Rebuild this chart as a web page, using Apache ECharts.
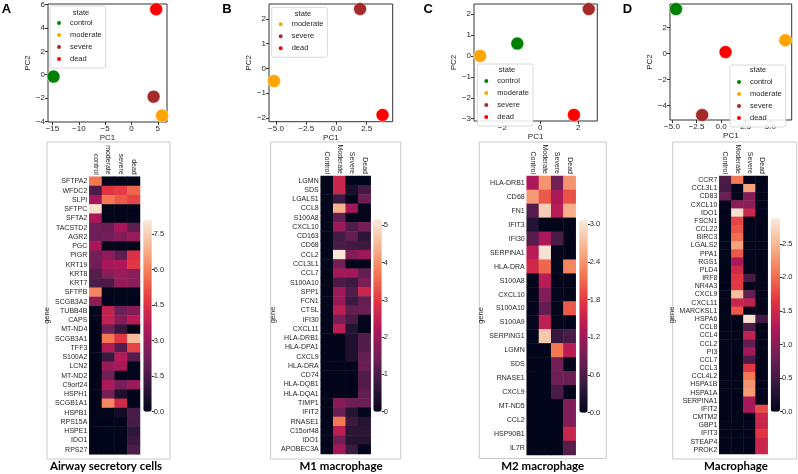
<!DOCTYPE html>
<html><head><meta charset="utf-8">
<script src="https://cdn.jsdelivr.net/npm/echarts@6/dist/echarts.min.js"></script>
<style>html,body{margin:0;padding:0;background:#fff}#c{width:798px;height:474px}</style>
</head><body><div id="c"></div>
<script>
// ================= DATA =================
// PCA scatter data
const statesA = ['control','moderate','severe','dead'];
const pcaA_PC1 = [-14.8, 5.8, 4.2, 4.7];
const pcaA_PC2 = [-0.16, -3.5, -1.88, 5.6];
const statesB = ['moderate','severe','dead'];
const pcaB_PC1 = [-5.17, 1.95, 3.81];
const pcaB_PC2 = [-0.51, 2.4, -1.88];
const statesC = ['control','moderate','severe','dead'];
const pcaC_PC1 = [-1.21, -3.17, 2.55, 1.77];
const pcaC_PC2 = [0.59, 0.0, 2.24, -2.82];
const statesD = ['control','moderate','severe','dead'];
const pcaD_PC1 = [-4.59, 6.53, -1.93, 0.45];
const pcaD_PC2 = [3.44, 1.03, -4.75, 0.12];

// scatter tick labels
const ticksA_PC1 = [-15,-10,-5,0,5];   const ticksA_PC2 = [-4,-2,0,2,4,6];
const ticksB_PC1 = [-5,-2.5,0,2.5];    const ticksB_PC2 = [-2,-1,0,1,2];
const ticksC_PC1 = [-2,0,2];           const ticksC_PC2 = [-3,-2,-1,0,1,2];
const ticksD_PC1 = [-5,-2.5,0,2.5,5];  const ticksD_PC2 = [-4,-2,0,2];

// heatmap columns
const colsA = ['control','moderate','severe','dead'];
const colsB = ['Control','Moderate','Severe','Dead'];
const colsC = ['Control','Moderate','Severe','Dead'];
const colsD = ['Control','Moderate','Severe','Dead'];

// colorbar ticks / ranges
const cbTicksA = [0,1.5,3.0,4.5,6.0,7.5]; const cbMaxA = 8.1;
const cbTicksB = [0,1,2,3,4,5];           const cbMaxB = 5.16;
const cbTicksC = [0,0.6,1.2,1.8,2.4,3.0]; const cbMaxC = 3.07;
const cbTicksD = [0,0.5,1.0,1.5,2.0,2.5]; const cbMaxD = 2.88;

// Panel A: Airway secretory cells
const genesA = ['SFTPA2','WFDC2','SLPI','SFTPC','SFTA2','TACSTD2','AGR2','PGC','PIGR','KRT19','KRT8','KRT7','SFTPB','SCGB3A2','TUBB4B','CAPS','MT-ND4','SCGB3A1','TFF3','S100A2','LCN2','MT-ND2','C9orf24','HSPH1','SCGB1A1','HSPB1','RPS15A','HSPE1','IDO1','RPS27'];
const A_control  = [5.8,1.6,3.3,7.9,3.4,2.3,2.3,3.4,2.4,2.3,1.8,1.6,6.1,2.9,0,0,0,0,0,0,0,0,0,0,0,0,0,0,0,0];
const A_moderate = [0,4.6,5.8,0,0,2.2,2.4,0,2.9,3.4,2.8,1.6,0,0,3.9,3.9,2.3,5.8,3.6,1.2,3.1,2.3,3.5,2.4,6.1,0,0,0,0,0];
const A_severe   = [0,4.8,5.3,0,0,3.4,2.7,0,2.0,3.5,3.1,3.1,0,0,2.3,2.7,1.1,4.7,1.8,3.6,3.4,0,2.4,0.6,4.2,0.4,0,0,0,0];
const A_dead     = [0,5.5,4.9,0,0,2.0,3.1,0,4.5,4.7,2.8,2.8,0,0,2.7,3.7,0,7.1,4.9,1.8,0,0,3.1,0,0,1.5,1.5,1.0,1.2,1.6];

// Panel B: M1 macrophage
const genesB = ['LGMN','SDS','LGALS1','CCL8','S100A8','CXCL10','CD163','CD68','CCL2','CCL3L1','CCL7','S100A10','SPP1','FCN1','CTSL','IFI30','CXCL11','HLA-DRB1','HLA-DPA1','CXCL9','HLA-DRA','CD74','HLA-DQB1','HLA-DQA1','TIMP1','IFIT2','RNASE1','C15orf48','IDO1','APOBEC3A'];
const B_control  = [0,0,0,0,0,0,0,0,0,0,0,0,0,0,0,0,0,0,0,0,0,0,0,0,0,0,0,0,0,0];
const B_moderate = [2.6,2.6,0.8,4.4,1.3,2.0,0.9,1.0,5.1,1.5,2.1,1.0,2.0,2.0,2.4,1.6,2.4,0,0,0,0,0,0,0,1.8,1.4,3.7,2.4,1.5,2.1];
const B_severe   = [0,0.35,0,2.1,0,1.1,1.3,0.9,1.7,0,2.1,0.8,1.1,0.8,1.3,1.0,0.5,0.4,0.4,0.4,0,0,0,0,1.4,0.5,0.8,0.6,0.5,0.8];
const B_dead     = [0,0.9,1.4,0,0,1.5,0.6,0.8,2.0,0,1.3,1.6,2.6,1.3,1.4,0,0,1.1,1.1,1.3,1.4,1.1,1.1,1.3,1.4,0,0.5,0.6,0.5,0];

// Panel C: M2 macrophage
const genesC = ['HLA-DRB1','CD68','FN1','IFIT3','IFI30','SERPINA1','HLA-DRA','S100A8','CXCL10','S100A10','S100A9','SERPING1','LGMN','SDS','RNASE1','CXCL9','MT-ND5','CCL2','HSP90B1','IL7R'];
const C_control  = [1.3,2.45,0.68,0.3,0.68,1.4,1.6,0,0,0,0,0,0,0,0,0,0,0,0,0];
const C_moderate = [2.4,2.0,2.85,0,1.3,3.0,2.1,1.4,1.0,0.77,1.45,2.8,0,0,0,0,0,0,0,0];
const C_severe   = [0.9,1.3,1.4,0,0.6,0,0,0,0,0,0,0.45,2.2,0.9,0.85,0.6,0,0,0,0];
const C_dead     = [2.4,1.95,2.6,0,0,0,2.3,0,0,2.0,0,0.6,1.4,0,0.85,0,1.0,1.0,1.55,0.68];

// Panel D: Macrophage
const genesD = ['CCR7','CCL3L1','CD83','CXCL10','IDO1','FSCN1','CCL22','BIRC3','LGALS2','PPA1','RGS1','PLD4','IRF8','NR4A3','CXCL9','CXCL11','MARCKSL1','HSPA6','CCL8','CCL4','CCL2','PI3','CCL7','CCL3','CCL4L2','HSPA1B','HSPA1A','SERPINA1','IFIT2','CMTM2','GBP1','IFIT3','STEAP4','PROK2'];
const D_control  = [0.58,0.52,0.78,0,0,0,0,0,0,0,0,0,0,0,0,0,0,0,0,0,0,0,0,0,0,0,0,0,0,0,0,0,0,0];
const D_moderate = [2.07,0,0,1.0,2.8,1.75,1.85,2.0,2.35,1.87,1.2,1.5,1.67,1.67,2.55,1.44,1.87,0,0,0,0,0,0,0,0,0,0,0,0,0,0,0,0,0];
const D_severe   = [0,2.36,0.95,1.0,1.45,0,0,0,0,0,0,0,0.52,0,0.72,1.38,0,2.8,0.58,1.38,0.72,1.15,0.58,1.67,2.07,2.25,2.3,1.2,1.2,0,0,0,0,0];
const D_dead     = [0,0,0,0,0,0,0,0,0,0,0,0,0,0,0,0,0,0.5,0,0,0,0,0,0,0,0,0,0,1.8,1.45,1.45,1.65,1.45,1.45];

const titles = ['Airway secretory cells','M1 macrophage','M2 macrophage','Macrophage'];
const letters = ['A','B','C','D'];

// ================= STYLE / LAYOUT =================
const FONT = '"Liberation Sans", Arial, Helvetica, sans-serif';
const rocket = ['#03051A','#35193E','#701F57','#AD1759','#E13342','#F37651','#F6B48F','#FAEBDD'];
const stateColor = {control:'#008000', moderate:'#FFA500', severe:'#A52A2A', dead:'#FF0000'};
const TXT = '#262626';
const fmt = d => v => (d ? Number(v).toFixed(d) : String(Math.round(v))).replace('-', '\u2212');

const panels = [
  { states:statesA, pc1:pcaA_PC1, pc2:pcaA_PC2, xt:ticksA_PC1, yt:ticksA_PC2,
    genes:genesA, cols:colsA, vals:[A_control,A_moderate,A_severe,A_dead], cbT:cbTicksA, cbMax:cbMaxA,
    sc:{left:48,top:4,width:119,height:118}, xr:[-15.85,6.75], yr:[-4.05,6.05], xd:0, yd:0, pc2Gap:14,
    lg:{left:50,top:6}, st:[81,13], letter:[6.5,9],
    frame:[47,142,123,317], hm:{left:89.3,top:176.7,width:50.7,height:277.6}, geneGap:33,
    cb:{left:143.3,top:220,width:8.4,height:191.7}, cbd:1, title:[106,466] },
  { states:statesB, pc1:pcaB_PC1, pc2:pcaB_PC2, xt:ticksB_PC1, yt:ticksB_PC2,
    genes:genesB, cols:colsB, vals:[B_control,B_moderate,B_severe,B_dead], cbT:cbTicksB, cbMax:cbMaxB,
    sc:{left:269,top:4,width:123.7,height:117.7}, xr:[-5.58,4.65], yr:[-2.15,2.6], xd:1, yd:0, pc2Gap:16,
    lg:{left:271.7,top:7.3}, st:[303,13.5], letter:[227,9],
    frame:[270.7,142,130,317], hm:{left:320.7,top:176,width:50,height:278}, geneGap:43,
    cb:{left:373.3,top:219.3,width:8.4,height:192.4}, cbd:0, title:[341,466] },
  { states:statesC, pc1:pcaC_PC1, pc2:pcaC_PC2, xt:ticksC_PC1, yt:ticksC_PC2,
    genes:genesC, cols:colsC, vals:[C_control,C_moderate,C_severe,C_dead], cbT:cbTicksC, cbMax:cbMaxC,
    sc:{left:474,top:4,width:123.3,height:117}, xr:[-3.49,3.0], yr:[-3.11,2.48], xd:0, yd:0, pc2Gap:8,
    lg:{left:477.3,top:64}, st:[507,70], letter:[428.3,9],
    frame:[479.3,142,127,316.5], hm:{left:526.7,top:176,width:49,height:279}, geneGap:37,
    cb:{left:579.3,top:220,width:8.4,height:192.7}, cbd:1, title:[542.7,466] },
  { states:statesD, pc1:pcaD_PC1, pc2:pcaD_PC2, xt:ticksD_PC1, yt:ticksD_PC2,
    genes:genesD, cols:colsD, vals:[D_control,D_moderate,D_severe,D_dead], cbT:cbTicksD, cbMax:cbMaxD,
    sc:{left:670,top:4,width:121.7,height:116}, xr:[-5.2,7.18], yr:[-5.13,3.83], xd:1, yd:0, pc2Gap:16,
    lg:{left:730,top:65}, st:[758,69.5], letter:[627.5,9],
    frame:[672.7,142,124,317], hm:{left:719.3,top:176,width:48.4,height:278}, geneGap:41,
    cb:{left:770.7,top:218.3,width:9.3,height:193.4}, cbd:1, title:[736,466] }
];

const option = {
  animation:false, backgroundColor:'#fff', textStyle:{fontFamily:FONT},
  grid:[], xAxis:[], yAxis:[], series:[], visualMap:[], legend:[], graphic:[]
};

panels.forEach((p, i) => {
  // ---- scatter (PCA) ----
  let g = option.grid.length;
  option.grid.push(Object.assign({show:true, borderColor:'#333', borderWidth:1, backgroundColor:'#fff'}, p.sc));
  option.xAxis.push({gridIndex:g, type:'value', min:p.xr[0], max:p.xr[1],
    name:'PC1', nameLocation:'middle', nameGap:12, nameTextStyle:{fontSize:8, color:TXT, fontFamily:FONT},
    axisLine:{show:false, onZero:false}, splitLine:{show:false},
    axisTick:{show:true, length:3, customValues:p.xt, lineStyle:{color:'#333'}},
    axisLabel:{customValues:p.xt, fontSize:8, color:TXT, margin:3, formatter:fmt(p.xd), fontFamily:FONT}});
  option.yAxis.push({gridIndex:g, type:'value', min:p.yr[0], max:p.yr[1],
    name:'PC2', nameLocation:'middle', nameRotate:90, nameGap:p.pc2Gap, nameTextStyle:{fontSize:8, color:TXT, fontFamily:FONT},
    axisLine:{show:false, onZero:false}, splitLine:{show:false},
    axisTick:{show:true, length:3, customValues:p.yt, lineStyle:{color:'#333'}},
    axisLabel:{customValues:p.yt, fontSize:8, color:TXT, margin:3, formatter:fmt(p.yd), fontFamily:FONT}});
  p.states.forEach((s, k) => {
    option.series.push({type:'scatter', name:s, xAxisIndex:g, yAxisIndex:g,
      data:[[p.pc1[k], p.pc2[k]]], symbolSize:13,
      itemStyle:{color:stateColor[s], borderColor:'#fff', borderWidth:0.5, opacity:1}, z:3});
  });
  option.legend.push({left:p.lg.left, top:p.lg.top, orient:'vertical', data:p.states.slice(),
    icon:'circle', itemWidth:12, itemHeight:6, itemGap:4, selectedMode:false,
    padding:[13,4,5,5], borderColor:'#cfcfcf', borderWidth:0.8, borderRadius:2,
    backgroundColor:'rgba(255,255,255,0.85)',
    textStyle:{fontSize:7.5, color:TXT, fontFamily:FONT}, z:10});

  // ---- heatmap ----
  g = option.grid.length;
  option.grid.push(Object.assign({}, p.hm));
  option.xAxis.push({gridIndex:g, type:'category', data:p.cols, position:'top',
    axisLine:{show:false}, axisTick:{show:false}, splitLine:{show:false},
    axisLabel:{interval:0, rotate:90, fontSize:7, color:TXT, margin:2, fontFamily:FONT}});
  option.yAxis.push({gridIndex:g, type:'category', data:p.genes, inverse:true,
    axisLine:{show:false}, axisTick:{show:false}, splitLine:{show:false},
    axisLabel:{interval:0, fontSize:7, color:TXT, margin:2, fontFamily:FONT},
    name:'gene', nameLocation:'middle', nameRotate:90, nameGap:p.geneGap,
    nameTextStyle:{fontSize:7.5, color:TXT, fontFamily:FONT}});
  const data = [];
  p.vals.forEach((col, c) => col.forEach((v, r) => data.push([c, r, v])));
  const si = option.series.length;
  option.series.push({type:'heatmap', xAxisIndex:g, yAxisIndex:g, data:data,
    emphasis:{disabled:true}, progressive:0});
  option.visualMap.push({type:'continuous', seriesIndex:si, dimension:2, min:0, max:p.cbMax,
    left:p.cb.left, top:p.cb.top, itemWidth:p.cb.width, itemHeight:p.cb.height,
    calculable:false, padding:0, orient:'vertical', hoverLink:false,
    inRange:{color:rocket}});

  // ---- colorbar axis ----
  g = option.grid.length;
  option.grid.push(Object.assign({}, p.cb));
  option.xAxis.push({gridIndex:g, type:'value', show:false, min:0, max:1});
  option.yAxis.push({gridIndex:g, type:'value', position:'right', min:0, max:p.cbMax,
    axisLine:{show:false, onZero:false}, splitLine:{show:false},
    axisTick:{show:true, length:2.5, customValues:p.cbT, lineStyle:{color:'#333'}},
    axisLabel:{customValues:p.cbT, fontSize:7.5, color:TXT, margin:2, formatter:fmt(p.cbd), fontFamily:FONT}});

  // ---- decorations ----
  option.graphic.push(
    {type:'rect', shape:{x:p.frame[0], y:p.frame[1], width:p.frame[2], height:p.frame[3]},
     style:{fill:null, stroke:'#c9c9c9', lineWidth:1}, z:-1, silent:true},
    {type:'text', x:p.letter[0], y:p.letter[1],
     style:{text:letters[i], font:'bold 13px '+FONT, fill:'#000', textAlign:'center', textVerticalAlign:'middle'}},
    {type:'text', x:p.st[0], y:p.st[1], z:20,
     style:{text:'state', font:'7.5px '+FONT, fill:TXT, textAlign:'center', textVerticalAlign:'middle'}},
    {type:'text', x:p.title[0], y:p.title[1],
     style:{text:titles[i], font:'bold 11.5px Lato, '+FONT, fill:'#000', textAlign:'center', textVerticalAlign:'middle'}}
  );
});

const chart = echarts.init(document.getElementById('c'), null, {renderer:'canvas'});
chart.setOption(option);
</script>
</body></html>
